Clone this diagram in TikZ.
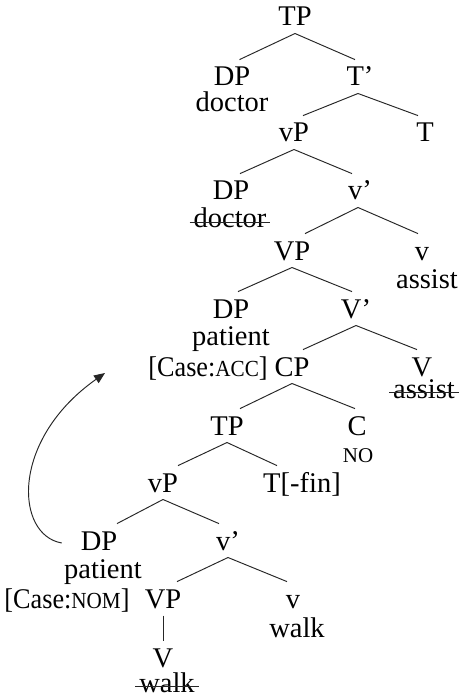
\documentclass[tikz,border=0pt]{standalone}
\usepackage{fontspec}
\setmainfont{Liberation Serif}
\usetikzlibrary{arrows.meta}
\newcommand\treefont{\fontsize{28.5}{34}\selectfont}
\newcommand\smc[1]{{\fontsize{23}{27}\selectfont #1}}
\newcommand\casetext[1]{\scalebox{0.92}[1]{[Case:\smc{#1}]}}
\newcommand\treebranch[4]{\draw[edge] ([xshift=#2,yshift=-7.5pt]#1.south) -- ([xshift=#4,yshift=7.5pt]#3.north);}
\begin{document}
\begin{tikzpicture}[x=1pt,y=-1pt,
  cat/.style={font=\treefont, inner sep=0pt, outer sep=0pt, text height=18.9pt, text depth=0pt, anchor=base},
  word/.style={font=\treefont, inner sep=0pt, outer sep=0pt, anchor=base},
  edge/.style={line width=0.95pt, black!85},
  strike/.style={line width=1pt, black!85},
  move/.style={line width=0.95pt, black!85, -{Triangle[length=11pt,width=9pt]}}]
\fill[white] (0,0) rectangle (463,700);
% nodes
\node[cat] (tp0) at (295,26) {TP};
\node[cat] (dp1) at (232,86) {DP};
\node[word] (dp1w) at (232,112) {doctor};
\node[cat] (tb1) at (360,86) {T’};
\node[cat] (vp1) at (294,142) {vP};
\node[cat] (t1) at (425,142) {T};
\node[cat] (dp2) at (231,200) {DP};
\node[word] (dp2w) at (230,228) {doctor};
\node[cat] (vb2) at (360,200) {v’};
\node[cat] (vp2) at (292,260) {VP};
\node[cat] (v2) at (422,260) {v};
\node[word] (v2w) at (427,288) {assist};
\node[cat] (dp3) at (231,318) {DP};
\node[word] (dp3w) at (231,345) {patient};
\node[word] (dp3c) at (208,376) {\casetext{ACC}};
\node[cat] (vb3) at (356,318) {V’};
\node[cat] (cp3) at (292,376) {CP};
\node[cat] (v3) at (422,376) {V};
\node[word] (v3w) at (424,398) {assist};
\node[cat] (tp4) at (227,435) {TP};
\node[cat] (c4) at (357,435) {C};
\node[word] (c4w) at (358,462) {\fontsize{21}{24}\selectfont NO};
\node[cat] (vp5) at (163,492) {vP};
\node[cat] (t5) at (302,492) {T[-fin]};
\node[cat] (dp6) at (99,550) {DP};
\node[word] (dp6w) at (103,578) {patient};
\node[word] (dp6c) at (67,608) {\casetext{NOM}};
\node[cat] (vb6) at (228,550) {v’};
\node[cat] (vp7) at (163,608) {VP};
\node[cat] (v7) at (293,608) {v};
\node[word] (v7w) at (297,637) {walk};
\node[cat] (vv8) at (163,667) {V};
\node[word] (vv8w) at (167,692) {walk};
% strike-throughs
\foreach \w in {dp2w,v3w,vv8w}
  \draw[strike] ([xshift=-4pt,yshift=5.5pt]\w.base west) -- ([xshift=4pt,yshift=5.5pt]\w.base east);
% edges
\treebranch{tp0}{0pt}{dp1}{7.5pt}
\treebranch{tp0}{0pt}{tb1}{-5pt}
\treebranch{tb1}{-2pt}{vp1}{9pt}
\treebranch{tb1}{-2pt}{t1}{-7pt}
\treebranch{vp1}{0pt}{dp2}{9pt}
\treebranch{vp1}{0pt}{vb2}{-8pt}
\treebranch{vb2}{-2pt}{vp2}{13pt}
\treebranch{vb2}{-2pt}{v2}{-4pt}
\treebranch{vp2}{0pt}{dp3}{7pt}
\treebranch{vp2}{0pt}{vb3}{-4pt}
\treebranch{vb3}{0pt}{cp3}{11pt}
\treebranch{vb3}{0pt}{v3}{-5pt}
\treebranch{cp3}{0pt}{tp4}{13pt}
\treebranch{cp3}{0pt}{c4}{-2pt}
\treebranch{tp4}{0pt}{vp5}{15pt}
\treebranch{tp4}{0pt}{t5}{-25pt}
\treebranch{vp5}{0pt}{dp6}{18pt}
\treebranch{vp5}{0pt}{vb6}{-9pt}
\treebranch{vb6}{0pt}{vp7}{14pt}
\treebranch{vb6}{0pt}{v7}{-6pt}
\treebranch{vp7}{0pt}{vv8}{0pt}
% movement arrow
\coordinate (mvend) at (105,373);
\draw[move] ([xshift=-19pt,yshift=7pt]dp6.base west) .. controls (15,535) and (10,440) .. (mvend);
\end{tikzpicture}
\end{document}
